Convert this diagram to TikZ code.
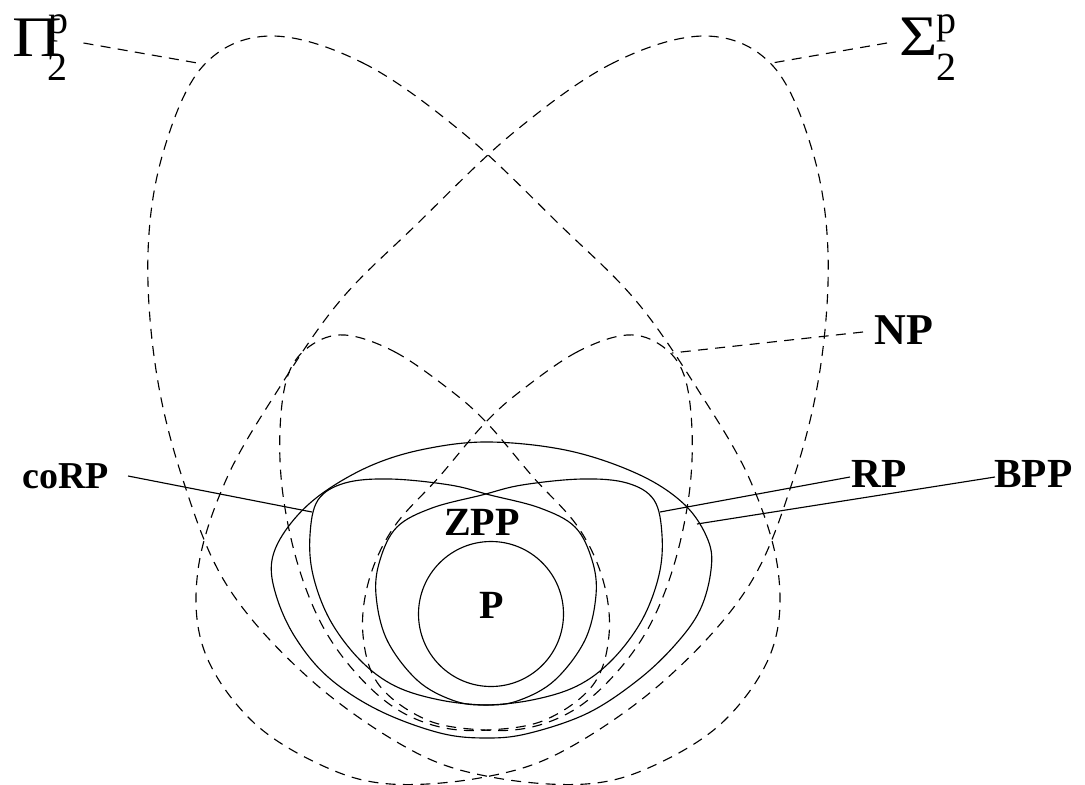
\documentclass[tikz,border=0pt]{standalone}
\usepackage{fontspec}
\usepackage{graphicx}
\setmainfont{Liberation Serif}
\newcommand\bigLobeShape{\draw[dsh] plot[smooth cycle, tension=0.6] coordinates {
    (270,36) (363,63) (463,133) (560,225) (637,302) (700,393) (750,480)
    (778,570) (772,650) (725,720) (655,765) (586,784) (491,777) (411,750)
    (311,680) (228,587) (183,480) (156,370) (148,253) (163,153) (203,66)};}
\newcommand\smallLobeShape{\draw[dsh] plot[smooth cycle, tension=0.6] coordinates {
    (345,335) (395,352) (450,390) (487,423) (533,477) (578,527) (603,580)
    (609,635) (593,685) (545,720) (488,730) (440,727) (395,708) (355,672)
    (322,625) (298,565) (283,495) (280,430) (288,375) (310,346)};}
\newcommand\rpLobeShape{\draw[sol] plot[smooth cycle, tension=0.6] coordinates {
    (390,479) (450,485) (490,495) (540,508) (575,527) (592,560) (596,595)
    (585,640) (555,680) (520,700) (488,705) (440,700) (395,686) (360,660)
    (330,620) (313,575) (310,535) (318,500) (345,483)};}
\begin{document}
\begin{tikzpicture}[x=0.75pt,y=-0.75pt,
  dsh/.style={line width=0.85pt, dash pattern=on 7.5pt off 5.5pt},
  sol/.style={line width=0.85pt},
  lbl/.style={inner sep=0pt, anchor=base west}
]
\useasboundingbox (0,0) rectangle (1085,785);

% big dashed lobes (Pi and Sigma)
\bigLobeShape
\begin{scope}[shift={(976,0)}, xscale=-1]
  \bigLobeShape
\end{scope}

% coNP and NP lobes
\smallLobeShape
\begin{scope}[shift={(972,0)}, xscale=-1]
  \smallLobeShape
\end{scope}

% BPP
\draw[sol] plot[smooth cycle, tension=0.6] coordinates {
  (490,442) (570,451) (640,475) (685,505) (708,540) (711,570) (700,610)
  (675,645) (638,680) (588,713) (530,733) (488,738) (440,733) (378,710)
  (328,677) (295,637) (276,595) (272,560) (288,527) (320,495) (370,466) (425,449)};

% coRP and RP
\rpLobeShape
\begin{scope}[shift={(972,0)}, xscale=-1]
  \rpLobeShape
\end{scope}

% P
\draw[sol] (491,614) circle[radius=72.5];

% labels
\node[lbl, font=\fontsize{43}{50}\selectfont] (Pi) at (12,56) {\scalebox{1.2}[1]{Π}};
\node[lbl, font=\fontsize{30}{36}\selectfont] (Pip) at (48,33) {p};
\node[lbl, font=\fontsize{30}{36}\selectfont] (Pi2) at (47,80) {2};
\node[lbl, font=\fontsize{43}{50}\selectfont] (Sg) at (899,55) {\scalebox{1.15}[1]{Σ}};
\node[lbl, font=\fontsize{30}{36}\selectfont] (Sgp) at (936,33) {p};
\node[lbl, font=\fontsize{30}{36}\selectfont] (Sg2) at (936,80) {2};

\node[lbl, font=\bfseries\fontsize{33}{40}\selectfont] (NP) at (874,344) {NP};
\node[lbl, font=\bfseries\fontsize{28.5}{34}\selectfont] (coRP) at (22,488) {coRP};
\node[lbl, font=\bfseries\fontsize{31}{37}\selectfont] (RP) at (851,487) {RP};
\node[lbl, font=\bfseries\fontsize{31}{37}\selectfont] (BPP) at (994,487) {BPP};
\node[lbl, font=\bfseries\fontsize{30}{36}\selectfont] (ZPP) at (444,535) {ZPP};
\node[lbl, font=\bfseries\fontsize{30}{36}\selectfont] (P) at (479,618) {P};

% curve-side ends of the leaders
\coordinate (PiC) at (203,64);
\coordinate (SgC) at (772,63);
\coordinate (NPC) at (672,353);
\coordinate (coRPC) at (312,512);
\coordinate (RPC) at (660,512);
\coordinate (BPPC) at (697,524);

% leaders
\draw[dsh] ([shift={(15,10)}]Pip.base east) -- (PiC);
\draw[dsh] ([shift={(-12,-12)}]Sg.base west) -- (SgC);
\draw[dsh] ([shift={(-11,-12)}]NP.base west) -- (NPC);
\draw[sol] ([shift={(19,-12)}]coRP.base east) -- (coRPC);
\draw[sol] ([shift={(-1,-10)}]RP.base west) -- (RPC);
\draw[sol] ([shift={(1,-10)}]BPP.base west) -- (BPPC);
\end{tikzpicture}
\end{document}
